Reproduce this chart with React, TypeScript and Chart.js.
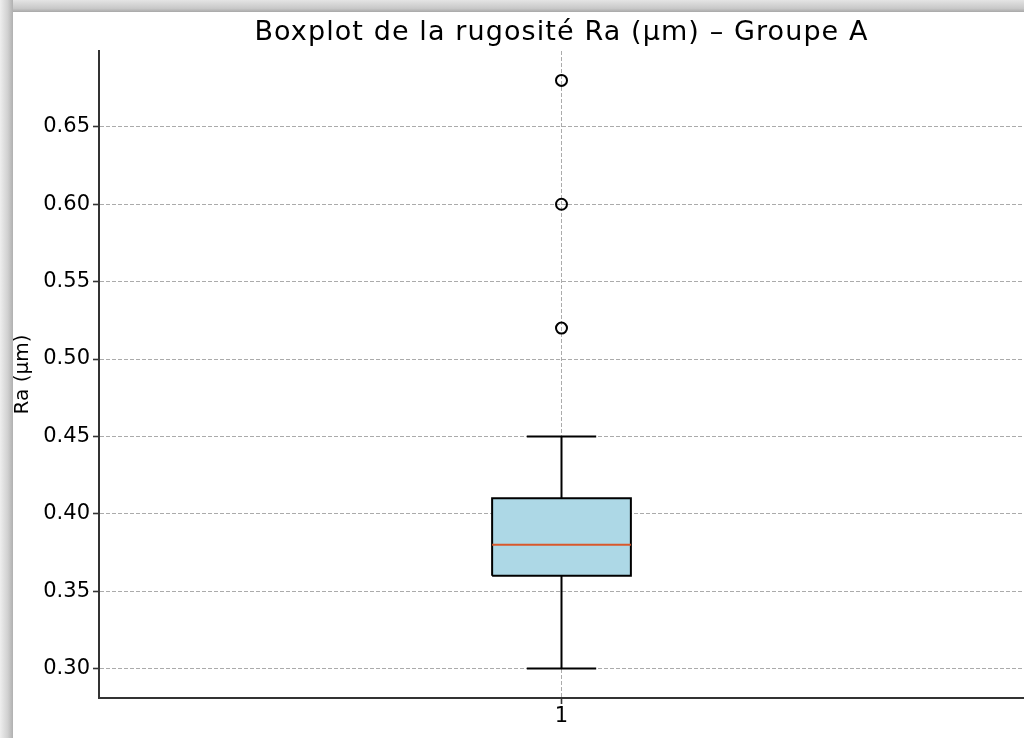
import React, { useEffect, useRef } from "react";
import { Chart, registerables } from "chart.js";

Chart.register(...registerables);

const categories = ["1"];
const q1Values = [0.36];
const medianValues = [0.38];
const q3Values = [0.41];
const whiskerLowValues = [0.3];
const whiskerHighValues = [0.45];
const outlierValues = [0.52, 0.6, 0.68];
const yTicks = [0.3, 0.35, 0.4, 0.45, 0.5, 0.55, 0.6, 0.65];
const yMin = 0.281;
const yMax = 0.699;
const titleText = "Boxplot de la rugosité Ra (µm) – Groupe A";
const yLabel = "Ra (µm)";

const FONT = "'DejaVu Sans', sans-serif";

const titleSpacingPlugin = {
  id: "titleSpacing",
  afterLayout(c: any) {
    const tb = c.titleBlock;
    if (tb && !tb.__patched) {
      const orig = tb.draw.bind(tb);
      tb.draw = (...args: any[]) => {
        const ctx = c.ctx;
        ctx.save();
        ctx.letterSpacing = "1.1px";
        orig(...args);
        ctx.restore();
      };
      tb.__patched = true;
    }
  },
};

export default function App() {
  const ref = useRef<HTMLCanvasElement | null>(null);

  useEffect(() => {
    if (!ref.current) return;
    const pos = 1;
    const halfBox = 0.075;
    const halfCap = 0.0375;
    const i = 0;
    const black = "#000000";
    const gridOpts = {
      color: "#ababab",
      lineWidth: 1,
      drawTicks: true,
      tickLength: 6,
      tickColor: "#333",
      tickWidth: 1.6,
      tickBorderDash: [],
    };
    const line = (pts: { x: number; y: number }[], color: string, order: number) =>
      ({
        type: "line",
        data: pts,
        borderColor: color,
        borderWidth: 2,
        pointRadius: 0,
        fill: false,
        order,
      } as any);
    const chart = new Chart(ref.current, {
      type: "scatter",
      data: {
        datasets: [
          {
            type: "line",
            data: [
              { x: pos - halfBox, y: q3Values[i] },
              { x: pos + halfBox, y: q3Values[i] },
            ],
            fill: { value: q1Values[i] },
            backgroundColor: "#add8e6",
            borderWidth: 0,
            pointRadius: 0,
            order: 6,
          } as any,
          line(
            [
              { x: pos - halfBox, y: q1Values[i] },
              { x: pos + halfBox, y: q1Values[i] },
              { x: pos + halfBox, y: q3Values[i] },
              { x: pos - halfBox, y: q3Values[i] },
              { x: pos - halfBox, y: q1Values[i] },
            ],
            black,
            3
          ),
          line(
            [
              { x: pos - halfBox, y: medianValues[i] },
              { x: pos + halfBox, y: medianValues[i] },
            ],
            "#d9582b",
            2
          ),
          line(
            [
              { x: pos, y: q1Values[i] },
              { x: pos, y: whiskerLowValues[i] },
            ],
            black,
            4
          ),
          line(
            [
              { x: pos, y: q3Values[i] },
              { x: pos, y: whiskerHighValues[i] },
            ],
            black,
            4
          ),
          line(
            [
              { x: pos - halfCap, y: whiskerLowValues[i] },
              { x: pos + halfCap, y: whiskerLowValues[i] },
            ],
            black,
            4
          ),
          line(
            [
              { x: pos - halfCap, y: whiskerHighValues[i] },
              { x: pos + halfCap, y: whiskerHighValues[i] },
            ],
            black,
            4
          ),
          {
            type: "scatter",
            data: outlierValues.map((v) => ({ x: pos, y: v })),
            pointStyle: "circle",
            pointRadius: 5.5,
            pointBorderWidth: 2,
            pointBorderColor: black,
            pointBackgroundColor: "rgba(0,0,0,0)",
            showLine: false,
            order: 1,
          } as any,
        ],
      },
      options: {
        animation: false,
        responsive: false,
        maintainAspectRatio: false,
        layout: { autoPadding: false, padding: { left: 0, right: 0, top: 0, bottom: 0 } },
        plugins: {
          legend: { display: false },
          tooltip: { enabled: false },
          title: {
            display: true,
            fullSize: false,
            text: titleText,
            color: "#000",
            font: { family: FONT, size: 27, weight: "normal", lineHeight: 1.2 },
            padding: { top: 16.5, bottom: 2.1 },
          },
        },
        scales: {
          x: {
            type: "linear",
            min: 0.5,
            max: 1.5,
            afterBuildTicks: (scale: any) => {
              scale.ticks = categories.map((_, k) => ({ value: k + 1 }));
            },
            afterFit: (scale: any) => {
              scale.height = 40;
              scale.paddingLeft = 0;
              scale.paddingRight = 0;
            },
            ticks: {
              color: "#000",
              font: { family: FONT, size: 21 },
              padding: 0,
              callback: (v: any) => categories[Math.round(Number(v)) - 1] ?? "",
            },
            grid: gridOpts,
            border: { display: true, color: "#333", width: 2, dash: [4, 2] },
          },
          y: {
            type: "linear",
            min: yMin,
            max: yMax,
            afterBuildTicks: (scale: any) => {
              scale.ticks = yTicks.map((v) => ({ value: v }));
            },
            afterFit: (scale: any) => {
              scale.width = 99;
              scale.paddingTop = 0;
              scale.paddingBottom = 0;
            },
            ticks: {
              color: "#000",
              font: { family: FONT, size: 21 },
              padding: 3,
              callback: (v: any) => Number(v).toFixed(2),
            },
            title: {
              display: true,
              text: yLabel,
              color: "#000",
              font: { family: FONT, size: 20 },
              padding: { top: 11, bottom: 0 },
            },
            grid: gridOpts,
            border: { display: true, color: "#333", width: 2, dash: [4, 2] },
          },
        },
      },
      plugins: [titleSpacingPlugin],
    } as any);
    return () => chart.destroy();
  }, []);

  return (
    <div
      style={{
        position: "absolute",
        left: 0,
        top: 0,
        width: 1024,
        height: 738,
        background: "#ffffff",
        overflow: "hidden",
      }}
    >
      <div
        style={{
          position: "absolute",
          left: 0,
          top: 0,
          width: 1024,
          height: 12,
          background: "linear-gradient(to bottom, #e4e4e4, #c8c8c8 70%, #a8a8a8)",
        }}
      />
      <div
        style={{
          position: "absolute",
          left: 0,
          top: 0,
          width: 13,
          height: 738,
          background: "linear-gradient(to right, #eeeeee, #d0d0d0 60%, #b0b0b0)",
        }}
      />
      <canvas
        ref={ref}
        width={1024}
        height={738}
        style={{ position: "absolute", left: 0, top: 0, width: 1024, height: 738 }}
      />
    </div>
  );
}
